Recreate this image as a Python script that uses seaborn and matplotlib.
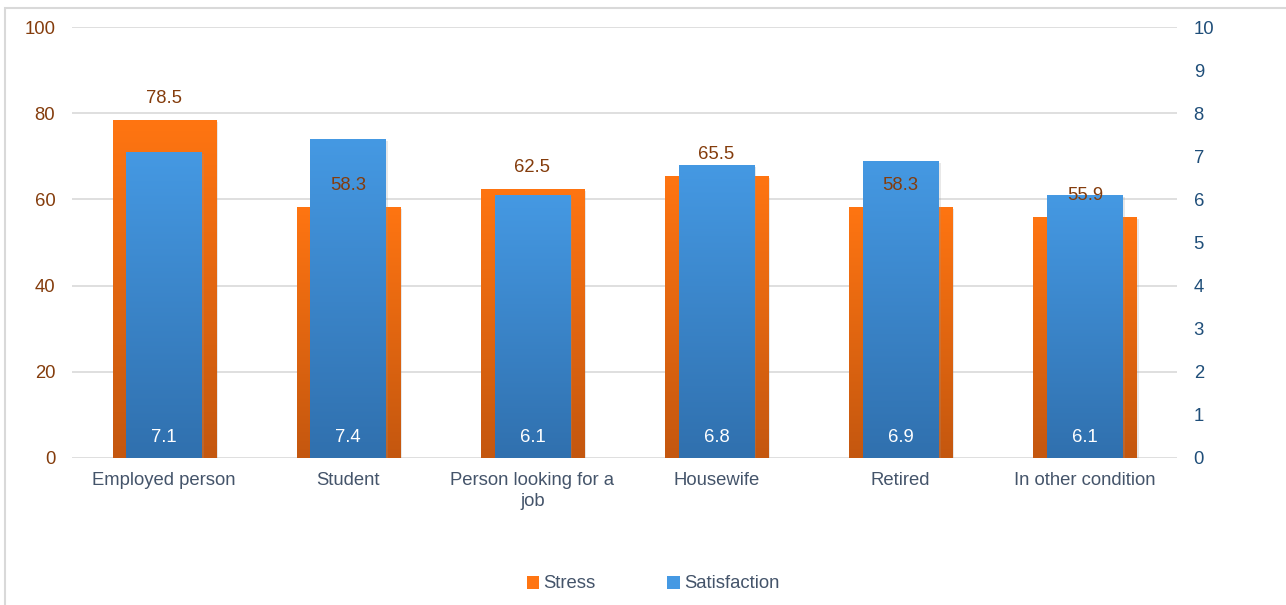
import matplotlib
matplotlib.use("Agg")
import matplotlib.pyplot as plt
import matplotlib.patheffects as pe
from matplotlib.colors import LinearSegmentedColormap
from matplotlib.patches import Rectangle, Patch
import numpy as np
import pandas as pd
import seaborn as sns

# Data
categories = ["Employed person", "Student", "Person looking for a\njob",
              "Housewife", "Retired", "In other condition"]
stress = [78.5, 58.3, 62.5, 65.5, 58.3, 55.9]
satisfaction = [7.1, 7.4, 6.1, 6.8, 6.9, 6.1]
left_ticks = [0, 20, 40, 60, 80, 100]
right_ticks = list(range(0, 11))

sns.set_theme(style="white")
plt.rcParams["font.family"] = ["Liberation Sans", "DejaVu Sans"]

ORANGE_TOP, ORANGE_BOT = "#FF7512", "#C4570F"
BLUE_TOP, BLUE_BOT = "#4599E3", "#3070AE"
BROWN = "#843C0C"
NAVY = "#1F4E79"
CAT_COLOR = "#44546A"
GRID = "#D9D9D9"
FS = 13.3

df = pd.DataFrame({"category": categories, "Stress": stress,
                   "Satisfaction": satisfaction})

W, H = 1286, 605
fig = plt.figure(figsize=(W / 100, H / 100), dpi=100)
fig.patch.set_facecolor("white")
ax = fig.add_axes([72 / W, 1 - 458 / H, (1177 - 72) / W, (458 - 27) / H])

sns.barplot(data=df, x="category", y="Stress", ax=ax, color=ORANGE_TOP,
            width=0.56, saturation=1, edgecolor="none")
ax2 = ax.twinx()
sns.barplot(data=df, x="category", y="Satisfaction", ax=ax2, color=BLUE_TOP,
            width=0.41, saturation=1, edgecolor="none")


def gradient_bars(axis, top, bottom):
    cmap = LinearSegmentedColormap.from_list("g", [bottom, top])
    grad = np.linspace(0, 1, 256).reshape(-1, 1)
    for p in list(axis.patches):
        x0, w, h = p.get_x(), p.get_width(), p.get_height()
        p.set_path_effects([pe.SimplePatchShadow(offset=(1.5, -1.5),
                                                 shadow_rgbFace="#9a9a9a",
                                                 alpha=0.22),
                            pe.Normal()])
        im = axis.imshow(grad, extent=[x0, x0 + w, 0, h], origin="lower",
                         aspect="auto", cmap=cmap, zorder=p.get_zorder() + 0.1,
                         interpolation="bilinear")
        im.set_clip_path(p)


gradient_bars(ax, ORANGE_TOP, ORANGE_BOT)
gradient_bars(ax2, BLUE_TOP, BLUE_BOT)

ax.set_xlim(-0.5, len(categories) - 0.5)
ax.set_ylim(0, 100)
ax2.set_ylim(0, 10)
ax.set_yticks(left_ticks)
ax2.set_yticks(right_ticks)

ax.set_axisbelow(True)
ax.yaxis.grid(True, color=GRID, lw=1.2)
ax.xaxis.grid(False)
ax2.grid(False)

for a in (ax, ax2):
    for s in a.spines.values():
        s.set_visible(False)
    a.set_xlabel("")
    a.set_ylabel("")
    a.patch.set_alpha(0)

ax.tick_params(axis="y", length=0, pad=12, labelsize=FS, labelcolor=BROWN)
ax2.tick_params(axis="y", length=0, pad=12, labelsize=FS, labelcolor=NAVY)
ax.tick_params(axis="x", length=0, pad=10, labelsize=FS, labelcolor=CAT_COLOR)
ax.set_xticks(range(len(categories)))
ax.set_xticklabels(categories, linespacing=1.3, va="top")

# Value labels
for i, v in enumerate(stress):
    ax2.text(i, v + 4.9, f"{v}", transform=ax.transData, ha="center",
             va="center", color=BROWN, fontsize=FS, zorder=10)
for i, v in enumerate(satisfaction):
    ax2.text(i, 0.48, f"{v}", ha="center", va="center", color="white",
             fontsize=FS, zorder=10)

# Legend
handles = [Patch(facecolor=ORANGE_TOP, edgecolor="none", label="Stress"),
           Patch(facecolor=BLUE_TOP, edgecolor="none", label="Satisfaction")]
leg = fig.legend(handles=handles, loc="center",
                 bbox_to_anchor=(653 / W, 1 - 584 / H),
                 ncol=2, frameon=False, fontsize=FS, handlelength=0.7,
                 handleheight=0.7, handletextpad=0.2, columnspacing=3.9)
for t in leg.get_texts():
    t.set_color(CAT_COLOR)

# Outer chart frame
fig.add_artist(Rectangle((5 / W, -0.05), 1.2, (H - 8) / H + 0.05,
                         transform=fig.transFigure, fill=False,
                         edgecolor=GRID, lw=1.5))

fig.savefig("out.png", dpi=100, facecolor="white")
